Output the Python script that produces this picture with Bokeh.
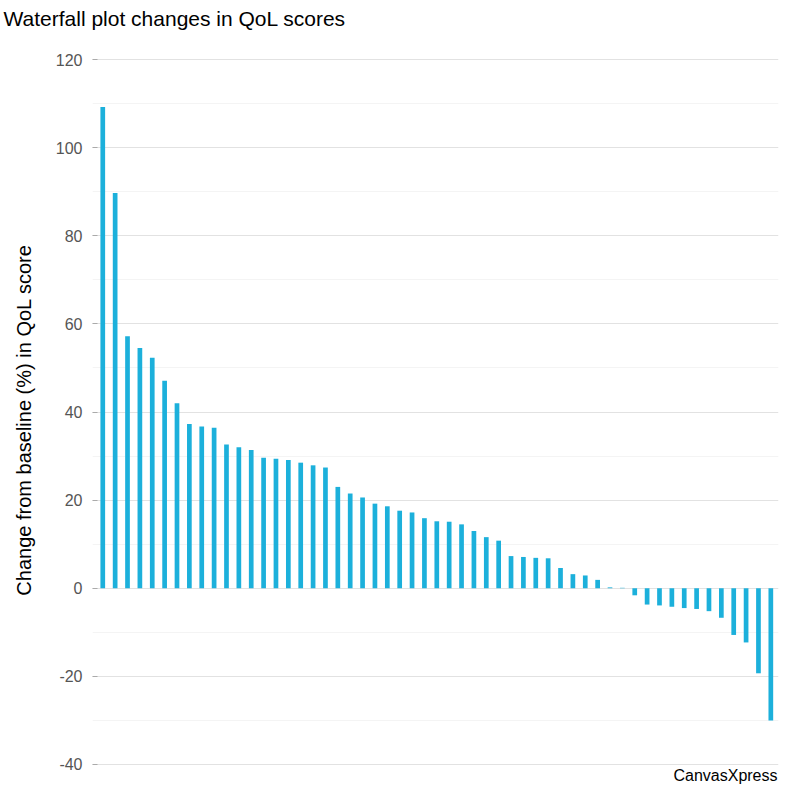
from bokeh.plotting import figure
from bokeh.models import (ColumnDataSource, Range1d, FixedTicker, Title, Label,
                          CustomJSTickFormatter)
from bokeh.embed import file_html
from bokeh.resources import INLINE

title_text = "Waterfall plot changes in QoL scores"
y_label = "Change from baseline (%) in QoL score"
y_ticks = [-40, -20, 0, 20, 40, 60, 80, 100, 120]
y_minor = [-30, -10, 10, 30, 50, 70, 90, 110]

qol_change = [
    109.2, 89.7, 57.2, 54.5, 52.3, 47.1, 42.0, 37.3, 36.7, 36.4,
    32.6, 32.0, 31.4, 29.6, 29.4, 29.1, 28.5, 27.9, 27.4, 23.0,
    21.5, 20.6, 19.2, 18.6, 17.6, 17.2, 15.9, 15.2, 15.1, 14.5,
    13.0, 11.6, 10.8, 7.3, 7.1, 6.9, 6.8, 4.6, 3.2, 2.9,
    1.9, 0.2, 0.1, -1.6, -3.7, -3.9, -4.2, -4.5, -4.7, -5.2,
    -6.7, -10.6, -12.3, -19.3, -30.0,
]
positions = list(range(len(qol_change)))

src = ColumnDataSource(dict(x=positions, top=qol_change))

FONT = "Liberation Sans"

p = figure(width=784, height=784, output_backend="svg", toolbar_location=None,
           x_range=Range1d(-0.83, 54.62), y_range=Range1d(-44.54, 120.91),
           min_border_left=92, min_border_right=6, min_border_top=55,
           min_border_bottom=0)
p.outline_line_color = None
p.background_fill_color = "white"

# spacer panel between the frame and the title (keeps the title high up)
p.add_layout(Title(text=" ", standoff=1, text_font=FONT,
                   text_font_size="21px", text_font_style="normal"), "above")
p.add_layout(Title(text=title_text, align="left", offset=-89, standoff=0,
                   text_font=FONT, text_font_size="21px",
                   text_font_style="normal", text_color="black"), "above")

p.vbar(x="x", top="top", bottom=0, width=0.38, source=src,
       fill_color="#1cb0db", line_color=None)

p.add_layout(Label(x=685, y=1, x_units="screen", y_units="screen",
                   text="CanvasXpress", text_font=FONT, text_font_size="16px",
                   text_color="black", text_baseline="bottom",
                   text_align="right"))

p.xaxis.visible = False
p.xgrid.visible = False

p.yaxis.ticker = FixedTicker(ticks=y_ticks, minor_ticks=y_minor)
p.yaxis.formatter = CustomJSTickFormatter(code="return String(tick);")
p.yaxis.axis_line_color = None
p.yaxis.major_tick_in = 5
p.yaxis.major_tick_out = 0
p.yaxis.major_tick_line_color = "#aaaaaa"
p.yaxis.minor_tick_line_color = None
p.yaxis.major_label_text_font = FONT
p.yaxis.major_label_text_font_size = "16px"
p.yaxis.major_label_text_color = "#555555"
p.yaxis.major_label_standoff = 6
p.yaxis.axis_label = y_label
p.yaxis.axis_label_text_font = FONT
p.yaxis.axis_label_text_font_size = "20px"
p.yaxis.axis_label_text_font_style = "normal"
p.yaxis.axis_label_text_color = "black"
p.yaxis.axis_label_standoff = 18

p.ygrid.grid_line_color = "#e2e2e2"
p.ygrid.grid_line_width = 1
p.ygrid.minor_grid_line_color = "#f4f4f4"

open("out.html", "w").write(file_html(p, INLINE))
